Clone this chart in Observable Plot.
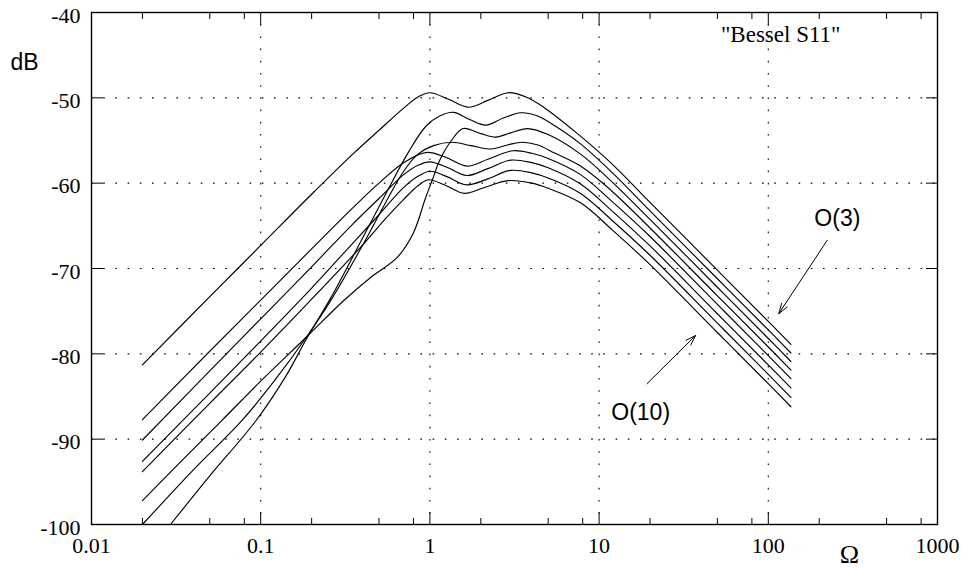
<!DOCTYPE html>
<html><head><meta charset="utf-8">
<script src="https://cdn.jsdelivr.net/npm/d3@7"></script>
<script src="https://cdn.jsdelivr.net/npm/@observablehq/plot@0.6"></script>
<style>body{margin:0;background:#fff} #chart svg{display:block}</style>
</head><body><div id="chart"></div>
<script>
// Series labels (order of the Bessel approximation)
const orders = ["O(3)","O(4)","O(5)","O(6)","O(7)","O(8)","O(9)","O(10)"];
// [Omega, dB] pairs
const o3 = [[0.02,-81.3],[0.05,-73.3],[0.1,-67.3],[0.2,-61.3],[0.35,-56.6],[0.5,-53.8],[0.7,-51.2],[0.85,-49.9],[1.0,-49.4],[1.3,-50.2],[1.69,-51.1],[2.2,-50.3],[2.9,-49.4],[3.7,-49.9],[4.7,-51.1],[7.45,-54.2],[11.7,-57.6],[20,-62.25],[50,-70.2],[100,-76.2],[136,-78.9]];
const o4 = [[0.0293,-100],[0.05,-94.3],[0.0932,-87.9],[0.14,-82.7],[0.187,-78.2],[0.2585,-73.5],[0.389,-66.9],[0.55,-61.2],[0.75,-56.3],[0.95,-53.3],[1.15,-52.1],[1.38,-51.7],[1.7,-52.5],[2.14,-53.2],[2.7,-52.4],[3.44,-51.75],[4.3,-52.1],[5.5,-53.3],[7.77,-55.4],[12,-58.8],[20,-63.25],[50,-71.2],[100,-77.2],[136,-79.9]];
const o5 = [[0.02,-97.2],[0.035,-92.3],[0.059,-87.8],[0.1,-83.2],[0.187,-78.0],[0.31,-73.75],[0.45,-71.0],[0.641,-68.7],[0.8,-65.8],[0.94,-61.8],[1.03,-59.7],[1.15,-57.2],[1.34,-55.0],[1.57,-53.6],[2.0,-54.2],[2.45,-54.6],[3.0,-54.1],[3.78,-53.6],[5,-54.3],[7.77,-56.6],[12,-59.9],[20,-64.25],[50,-72.2],[100,-78.2],[136,-80.9]];
const o6 = [[0.02,-100],[0.04,-93.6],[0.0776,-87.8],[0.12,-83.2],[0.187,-78.0],[0.2585,-73.8],[0.41,-66.9],[0.55,-62.2],[0.7,-58.6],[0.85,-56.6],[1.05,-55.6],[1.35,-55.2],[1.75,-55.6],[2.3,-56.0],[2.9,-55.5],[3.5,-55.2],[4.3,-55.5],[5.5,-56.5],[7.77,-58.0],[12,-61.0],[20,-65.25],[50,-73.2],[100,-79.2],[136,-81.9]];
const o7 = [[0.02,-87.7],[0.05,-79.7],[0.1,-73.7],[0.2,-67.7],[0.35,-62.9],[0.5,-60.0],[0.7,-57.6],[0.96,-56.4],[1.25,-57.0],[1.65,-58.0],[2.2,-57.2],[3.1,-56.2],[4,-56.5],[5,-57.1],[7.77,-59.0],[12,-62.2],[20,-66.25],[50,-74.2],[100,-80.2],[136,-82.9]];
const o8 = [[0.02,-90.1],[0.05,-82.0],[0.1,-75.9],[0.2,-69.8],[0.35,-64.8],[0.5,-61.8],[0.7,-59.0],[0.85,-57.9],[1.0,-57.5],[1.25,-58.1],[1.65,-59.1],[2.2,-58.3],[3.0,-57.3],[4,-57.6],[5,-58.2],[7.77,-60.1],[12,-63.3],[20,-67.35],[50,-75.3],[100,-81.3],[136,-84.0]];
const o9 = [[0.02,-92.6],[0.05,-84.6],[0.1,-78.5],[0.2,-72.3],[0.363,-66.7],[0.5,-63.7],[0.7,-60.5],[0.85,-59.2],[1.0,-58.6],[1.25,-59.2],[1.65,-60.2],[2.2,-59.5],[3.0,-58.5],[4,-58.8],[5,-59.4],[7.77,-61.2],[12,-64.4],[20,-68.45],[50,-76.4],[100,-82.4],[136,-85.1]];
const o10 = [[0.02,-93.8],[0.05,-85.8],[0.1,-79.8],[0.2,-73.6],[0.415,-66.9],[0.55,-64.1],[0.7,-61.9],[0.85,-60.3],[0.98,-59.6],[1.25,-60.3],[1.6,-61.2],[2.1,-60.5],[2.9,-59.7],[4,-60.0],[5,-60.6],[7.77,-62.3],[12,-65.5],[20,-69.55],[50,-77.5],[100,-83.5],[136,-86.2]];

// Axis ticks
const xDecades = [0.01,0.1,1,10,100,1000];
const xMinor = [0.02,0.05,0.08,0.2,0.5,0.8,2,5,8,20,50,80,200,500,800];
const xGrid = [0.1,1,10,100];
const yTicks = [-100,-90,-80,-70,-60,-50,-40];
const yGrid = [-90,-80,-70,-60,-50];

// Annotations (labels and arrows pointing to the O(3) and O(10) curves)
const noteLabels = [{text:"O(3)", x:256, y:-64.2},{text:"O(10)", x:17.6, y:-86.9}];
const noteArrows = [{x1:222.8,y1:-66.7,x2:115.3,y2:-75.3},{x1:19.2,y1:-83.5,x2:37.2,y2:-77.85}];

const series = [o3,o4,o5,o6,o7,o8,o9,o10];
const data = series.flatMap((pts,i)=>pts.map(([om,db])=>({order:orders[i], om, db})));

const serif = "Liberation Serif, Times New Roman, serif";
const sans = "Liberation Sans, Arial, sans-serif";

const chart = Plot.plot({
  width: 965, height: 571,
  marginLeft: 91, marginRight: 28, marginTop: 12, marginBottom: 47,
  style: {fontFamily: serif, fontSize: "22px", background: "#fff", color: "#000", overflow: "visible"},
  x: {type: "log", domain: [0.01, 1000], label: null},
  y: {domain: [-100, -40], label: null},
  marks: [
    Plot.gridX(xGrid, {stroke: "#000", strokeOpacity: 1, strokeWidth: 1.1, strokeDasharray: "1.6 10.6"}),
    Plot.gridY(yGrid, {stroke: "#000", strokeOpacity: 1, strokeWidth: 1.1, strokeDasharray: "1.6 10.6"}),
    Plot.axisX(xDecades, {anchor: "bottom", tickSize: -12, text: null, label: null, strokeWidth: 1}),
    Plot.axisX(xDecades, {anchor: "top", tickSize: -12, text: null, label: null, strokeWidth: 1}),
    Plot.axisX(xMinor, {anchor: "bottom", tickSize: -6, text: null, label: null, strokeWidth: 1}),
    Plot.axisX(xMinor, {anchor: "top", tickSize: -6, text: null, label: null, strokeWidth: 1}),
    Plot.axisY(yTicks, {anchor: "left", tickSize: -12, text: null, label: null, strokeWidth: 1}),
    Plot.axisY(yTicks, {anchor: "right", tickSize: -12, text: null, label: null, strokeWidth: 1}),
    Plot.axisX(xDecades, {anchor: "bottom", tickSize: 0, tickPadding: 13, label: null, tickFormat: d => String(d), fontSize: 22, fontFamily: serif}),
    Plot.axisY(yTicks, {anchor: "left", tickSize: 0, tickPadding: 11, label: null, tickFormat: d => String(d), fontSize: 22, fontFamily: serif, dy: 3}),
    Plot.frame({stroke: "#000", strokeWidth: 1.4}),
    Plot.line(data, {x: "om", y: "db", z: "order", curve: "catmull-rom", stroke: "#000", strokeWidth: 1.15}),
    Plot.arrow(noteArrows, {x1: "x1", y1: "y1", x2: "x2", y2: "y2", stroke: "#000", strokeWidth: 1, headLength: 16, headAngle: 36}),
    Plot.text(noteLabels, {x: "x", y: "y", text: "text", fontFamily: sans, fontSize: 23, textAnchor: "middle", lineAnchor: "middle"}),
    Plot.text(["\"Bessel S11\""], {text: d => d, frameAnchor: "top-right", dx: -97, dy: 13, textAnchor: "end", lineAnchor: "top", fontFamily: serif, fontSize: 23}),
    Plot.text(["dB"], {text: d => d, frameAnchor: "top-left", dx: -81, dy: 41, textAnchor: "start", lineAnchor: "top", fontFamily: sans, fontSize: 23}),
    Plot.text(["Ω"], {text: d => d, frameAnchor: "bottom-right", dx: -88, dy: 30, textAnchor: "middle", lineAnchor: "middle", fontFamily: serif, fontSize: 26})
  ]
});
document.getElementById("chart").appendChild(chart);
</script>
</body></html>
